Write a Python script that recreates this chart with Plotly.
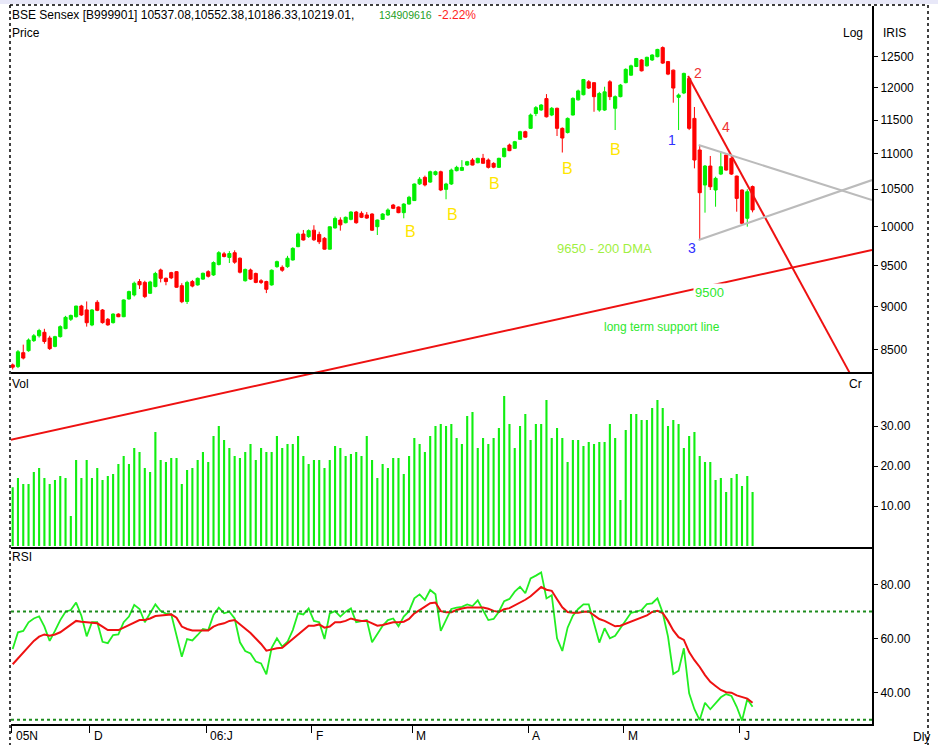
import plotly.graph_objects as go

# ---------------- data ----------------
open_ = [8335, 8316, 8470, 8492, 8605, 8660, 8700, 8635, 8540, 8650,
         8742, 8850, 8880, 9006, 8960, 8784, 9050, 8959, 8850, 8811,
         8911, 8880, 9090, 9138, 9300, 9290, 9158, 9239, 9443, 9340,
         9410, 9422, 9250, 9060, 9300, 9259, 9330, 9422, 9381, 9510,
         9645, 9600, 9660, 9590, 9310, 9443, 9400, 9310, 9300, 9259,
         9484, 9476, 9484, 9568, 9737, 9900, 9866, 9950, 9895, 9845,
         9705, 9980, 10084, 10048, 10093, 10191, 10173, 10151, 10164, 9996,
         10093, 10151, 10285, 10258, 10182, 10298, 10345, 10575, 10666, 10600,
         10705, 10745, 10499, 10573, 10760, 10765, 10840, 10912, 10873, 10936,
         10912, 10864, 10807, 10960, 11129, 11081, 11213, 11326, 11376, 11600,
         11655, 11830, 11577, 11680, 11376, 11313, 11577, 11810, 11890, 12094,
         12080, 11653, 11653, 12094, 11680, 11860, 12080, 12200, 12340, 12446,
         12350, 12446, 12500, 12650, 12420, 12281, 11850, 11917, 12148, 11526,
         11057, 10559, 10826, 10490, 10712, 10984, 10936, 10684, 10490, 10107,
         10537.08]
high = [8350, 8500, 8560, 8630, 8680, 8740, 8740, 8660, 8660, 8780,
        8890, 8905, 9010, 9020, 9060, 8970, 9075, 8970, 8865, 8920,
        8920, 9085, 9190, 9300, 9330, 9310, 9310, 9420, 9460, 9350,
        9420, 9430, 9280, 9310, 9320, 9350, 9410, 9440, 9550, 9680,
        9670, 9680, 9690, 9600, 9460, 9460, 9410, 9330, 9310, 9450,
        9560, 9500, 9620, 9730, 9920, 9953, 9960, 10015, 9930, 9860,
        10000, 10130, 10120, 10130, 10200, 10205, 10200, 10190, 10175, 10090,
        10175, 10240, 10300, 10265, 10310, 10410, 10580, 10670, 10690, 10760,
        10760, 10760, 10590, 10790, 10830, 10910, 10900, 10940, 10945, 11000,
        10935, 10880, 10945, 11090, 11150, 11190, 11340, 11340, 11600, 11715,
        11745, 11900, 11700, 11690, 11390, 11540, 11850, 11970, 12140, 12121,
        12090, 11935, 12016, 12120, 11880, 12060, 12310, 12370, 12480, 12460,
        12500, 12540, 12630, 12671, 12430, 12290, 11910, 12240, 12160, 11700,
        11129, 10840, 10970, 10675, 11032, 10990, 10950, 10690, 10500, 10500,
        10552.38]
low = [8285, 8300, 8395, 8480, 8590, 8640, 8570, 8500, 8530, 8640,
       8735, 8830, 8870, 8890, 8765, 8770, 8945, 8800, 8775, 8800,
       8875, 8875, 9080, 9120, 9210, 9100, 9150, 9230, 9290, 9255,
       9330, 9225, 9040, 9030, 9230, 9250, 9320, 9350, 9370, 9500,
       9600, 9530, 9520, 9400, 9300, 9320, 9280, 9270, 9160, 9250,
       9470, 9420, 9470, 9560, 9730, 9815, 9850, 9810, 9770, 9700,
       9700, 9970, 9944, 10040, 10080, 10035, 10110, 10100, 9940, 9887,
       10085, 10140, 10230, 10175, 10107, 10290, 10340, 10560, 10540, 10590,
       10690, 10475, 10363, 10560, 10750, 10755, 10830, 10835, 10865, 10860,
       10790, 10795, 10800, 10950, 11040, 11075, 11205, 11235, 11370, 11560,
       11640, 11540, 11560, 11262, 11020, 11300, 11570, 11800, 11880, 11980,
       11627, 11627, 11640, 11807, 11351, 11850, 12070, 12190, 12330, 12260,
       12340, 12430, 12490, 12380, 12200, 11766, 11351, 11900, 11350, 10793,
       9823, 10182, 10490, 10262, 10698, 10760, 10700, 10195, 10030, 9996,
       10186.33]
close = [8310, 8480, 8410, 8612, 8660, 8720, 8595, 8515, 8650, 8765,
         8873, 8895, 9005, 8900, 8810, 8959, 8955, 8811, 8785, 8911,
         8880, 9078, 9178, 9280, 9260, 9118, 9295, 9400, 9340, 9300,
         9345, 9231, 9057, 9290, 9245, 9340, 9402, 9365, 9535, 9660,
         9612, 9650, 9540, 9415, 9450, 9330, 9290, 9290, 9206, 9440,
         9547, 9440, 9590, 9715, 9900, 9823, 9944, 9825, 9800, 9705,
         9995, 10105, 10020, 10120, 10191, 10048, 10120, 10110, 9950, 10084,
         10164, 10218, 10240, 10182, 10298, 10390, 10573, 10640, 10560, 10745,
         10745, 10490, 10573, 10769, 10807, 10805, 10888, 10840, 10936, 10865,
         10807, 10810, 10936, 11081, 11047, 11178, 11326, 11245, 11577, 11690,
         11730, 11550, 11680, 11376, 11232, 11526, 11833, 11950, 12130, 11995,
         11860, 11910, 11935, 11860, 11860, 12042, 12294, 12350, 12470, 12270,
         12490, 12528, 12620, 12395, 12217, 11995, 11885, 12228, 11376, 10912,
         10453, 10826, 10535, 10652, 10816, 10769, 10712, 10375, 10040, 10466,
         10219.01]
volume = [14.7, 17.0, 15.5, 15.5, 18.5, 19.5, 17.0, 15.5, 16.5, 17.5,
          17.0, 7.5, 21.5, 17.0, 21.5, 17.0, 19.5, 16.5, 17.5, 18.0,
          20.5, 22.5, 20.5, 24.5, 23.5, 19.5, 18.5, 28.5, 21.5, 21.0,
          22.0, 22.0, 15.5, 19.0, 19.5, 21.5, 23.5, 21.0, 27.5, 30.0,
          26.5, 24.5, 22.5, 22.0, 23.5, 25.5, 21.5, 24.5, 23.5, 23.5,
          27.5, 24.5, 25.5, 25.5, 27.5, 22.5, 20.5, 21.5, 21.5, 19.5,
          21.5, 25.0, 24.5, 22.5, 23.0, 23.5, 22.5, 27.5, 21.5, 17.0,
          20.5, 19.5, 22.0, 22.0, 18.0, 22.5, 27.0, 25.5, 23.5, 27.5,
          30.0, 30.5, 30.0, 30.5, 27.0, 25.5, 32.5,
          33.5, 24.5, 27.0, 25.5, 27.0, 29.5, 37.5, 30.5, 24.5, 30.0,
          33.0, 26.5, 30.5, 30.5, 36.5, 27.0, 29.5, 27.0, 21.0, 26.5,
          26.5, 25.0, 26.0, 25.5, 26.0, 26.0, 30.5, 27.0, 11.5, 29.0,
          33.0, 33.0, 31.5, 31.5, 34.5, 36.5, 34.5, 30.0, 31.5, 30.5,
          24.5, 27.5, 28.5, 22.5, 21.0, 21.0, 16.5, 17.0, 13.5, 17.0,
          18.0, 15.0, 17.5, 13.5]
rsi = [56.1, 62.3, 62.8, 66.0, 67.4, 68.2, 64.4, 59.1, 62.8, 66.8,
       69.9, 70.5, 73.3, 68.4, 60.8, 66.0, 66.0, 58.8, 58.3, 61.3,
       61.5, 66.0, 68.1, 72.4, 70.9, 66.0, 69.3, 72.6, 70.1, 69.2,
       68.9, 61.5, 53.3, 59.8, 59.3, 61.3, 63.5, 63.1, 68.7, 71.4,
       69.3, 69.9, 67.4, 58.6, 55.4, 54.5, 51.5, 50.8, 46.8, 56.6,
       60.1, 57.0, 58.8, 63.1, 69.3, 68.9, 71.1, 66.5, 66.0, 59.8,
       69.3, 70.1, 68.1, 69.9, 71.1, 66.0, 66.5, 66.8, 58.6, 61.9,
       64.7, 66.8, 67.4, 64.5, 68.1, 70.1, 74.8, 76.3, 74.2, 77.9,
       76.3, 62.8, 66.8, 70.9, 71.4, 71.7, 72.6,
       72.0, 74.1, 70.5, 66.8, 67.2, 69.9, 73.8, 74.6, 77.3, 79.1,
       76.7, 82.2, 83.2, 84.4, 74.8, 76.0, 60.1, 55.4, 64.0, 68.4,
       70.9, 72.6, 72.6, 65.0, 58.5, 63.8, 60.1, 61.0, 63.8, 66.8,
       69.5, 69.9, 70.5, 72.7, 73.0, 74.8, 69.5, 60.7, 46.9, 48.1,
       56.4, 39.8, 33.9, 29.9, 36.3, 33.9, 36.1, 38.3, 39.5, 38.8,
       34.8, 29.7, 37.6, 34.8]
rsi_avg = [50.5, 52.7, 54.9, 57.0, 59.1, 60.7, 61.5, 61.0, 61.5, 62.3,
           63.7, 65.2, 66.5, 66.2, 66.0, 66.0, 65.6, 64.4, 63.1, 63.1,
           63.1, 64.0, 65.0, 66.0, 66.8, 66.8, 67.4, 68.3, 68.4, 68.7,
           68.9, 67.7, 64.4, 63.5, 63.0, 63.0, 63.0, 63.0, 64.4, 65.2,
           65.6, 66.5, 66.8, 65.2, 63.7, 62.0, 60.0, 58.0, 55.5, 56.0,
           56.4, 56.6, 58.2, 60.1, 61.5, 63.1, 64.7, 64.7, 65.2, 64.0,
           64.4, 66.0, 66.0, 66.5, 67.4, 66.8, 66.5, 66.5, 65.6, 64.7,
           65.0, 65.6, 66.0, 66.0, 66.2, 67.2, 69.3, 70.5, 71.7, 73.0,
           73.3, 70.1, 69.7, 69.7, 70.5, 71.1, 71.4,
           71.4, 71.4, 71.4, 71.0, 70.2, 69.8, 70.8, 71.2, 72.2, 73.3,
           74.3, 75.6, 77.3, 79.0, 78.0, 77.6, 74.5, 71.5, 69.8, 69.5,
           69.5, 69.9, 70.0, 68.5, 67.2, 66.5, 65.5, 64.5, 64.7, 65.5,
           66.3, 67.0, 67.8, 68.5, 69.8, 70.2, 69.4, 66.5, 63.0, 60.5,
           59.5, 55.0, 52.0, 49.5, 46.5, 44.0, 42.5, 41.0, 40.2, 40.0,
           39.0, 38.5, 37.8, 36.3]

month_idx = [0, 15, 37, 57, 76, 98, 116, 138]
month_labels = ["05N", "D", "06:J", "F", "M", "A", "M", "J"]
price_ticks = [8500, 9000, 9500, 10000, 10500, 11000, 11500, 12000, 12500]
vol_ticks = [10, 20, 30]
rsi_ticks = [40, 60, 80]
rsi_levels = [70, 30]

# drawn trend lines (bar index, price)
support_x = [-0.5, 162.6]
support_y = [7551, 9694]
downtrend_x = [127.8, 158.4]
downtrend_y = [12185, 8245]
tri_upper_x = [129.8, 162.6]
tri_upper_y = [11129, 10353]
tri_lower_x = [129.8, 162.6]
tri_lower_y = [9823, 10628]

idx = list(range(len(close)))
X_MIN, X_MAX = -0.32, 162.6
tick_pos = [max(m - 0.4, X_MIN + 0.15) for m in month_idx]

# ---------------- layout helpers (pixel -> paper) ----------------
W, H = 938, 745
L, R, T, B = 11, 872, 6, 724
def xp(px):
    return (px - L) / (R - L)
def yp(py):
    return (B - py) / (B - T)

FONT = "Liberation Sans, Arial, sans-serif"

fig = go.Figure()

fig.add_trace(go.Candlestick(
    x=idx, open=open_, high=high, low=low, close=close,
    increasing=dict(line=dict(color="#00EE00", width=1), fillcolor="#00EE00"),
    decreasing=dict(line=dict(color="#FF0000", width=1), fillcolor="#FF0000"),
    whiskerwidth=0, xaxis="x", yaxis="y", showlegend=False, hoverinfo="skip"))

for xs, ys, col in [(support_x, support_y, "#EE1111"),
                    (downtrend_x, downtrend_y, "#EE1111"),
                    (tri_upper_x, tri_upper_y, "#BBBBBB"),
                    (tri_lower_x, tri_lower_y, "#BBBBBB")]:
    fig.add_trace(go.Scatter(x=xs, y=ys, mode="lines", line=dict(color=col, width=2),
                             xaxis="x", yaxis="y", showlegend=False, hoverinfo="skip"))

fig.add_trace(go.Bar(x=idx, y=volume, width=0.4, marker=dict(color="#11EE11", line=dict(width=0)),
                     xaxis="x", yaxis="y2", showlegend=False, hoverinfo="skip"))

fig.add_trace(go.Scatter(x=idx, y=rsi, mode="lines", line=dict(color="#22EE22", width=1.8),
                         xaxis="x", yaxis="y3", showlegend=False, hoverinfo="skip"))
fig.add_trace(go.Scatter(x=idx, y=rsi_avg, mode="lines", line=dict(color="#EE1111", width=2),
                         xaxis="x", yaxis="y3", showlegend=False, hoverinfo="skip"))

shapes = []
for lv in rsi_levels:
    shapes.append(dict(type="line", xref="paper", yref="y3", x0=0, x1=1, y0=lv, y1=lv,
                       line=dict(color="#1E8C1E", width=2, dash="dot")))
# panel separators
for py in (373, 548):
    shapes.append(dict(type="line", xref="paper", yref="paper", x0=0, x1=1, y0=yp(py), y1=yp(py),
                       line=dict(color="black", width=2)))
# outer frame
shapes.append(dict(type="rect", xref="paper", yref="paper", x0=xp(0), x1=xp(938), y0=yp(0), y1=yp(4),
                   line=dict(width=0), fillcolor="#E8E8F8", layer="below"))
for (x0, y0, x1, y1) in [(10, 5, 10, 745), (928, 5, 928, 745), (10, 5, 928, 5)]:
    shapes.append(dict(type="line", xref="paper", yref="paper", x0=xp(x0), x1=xp(x1), y0=yp(y0), y1=yp(y1),
                       line=dict(color="black", width=1.5, dash="dot")))

ann = []
def txt(s, px, py, size=12, color="black", xanchor="center", bg=None):
    d = dict(text=s, x=xp(px), y=yp(py), xref="paper", yref="paper", showarrow=False,
             xanchor=xanchor, yanchor="middle", font=dict(family=FONT, size=size, color=color))
    if bg:
        d["bgcolor"] = bg
    ann.append(d)

txt("BSE Sensex [B999901] 10537.08,10552.38,10186.33,10219.01,", 10, 15, 12, xanchor="left")
txt("134909616", 377, 15, 10.5, "#1E9E1E", xanchor="left")
txt("-2.22%", 436, 15, 12, "#FF1E1E", xanchor="left")
txt("Price", 10, 33, 12, xanchor="left")
txt("Log", 853, 33, 12)
txt("IRIS", 894, 33, 12)
txt("Vol", 10, 384, 12, xanchor="left")
txt("Cr", 855, 384, 12)
txt("RSI", 10, 557, 12, xanchor="left")
txt("Dly", 921, 737, 12)

for (bx, by) in [(410, 231), (452, 214.5), (494, 183), (567.5, 168.5), (615.5, 149)]:
    txt("B", bx, by, 16, "#FFE600")
txt("1", 672, 140, 14, "#3030FF")
txt("3", 692, 248, 14, "#3030FF")
txt("2", 698, 73, 14, "#EE3333")
txt("4", 726, 127, 14, "#EE3333")
txt("9650 - 200 DMA", 604, 248, 13, "#9FEF3F")
txt("9500", 709.5, 292, 13, "#2EE82E", bg="white")
txt("long term support line", 661.5, 326.5, 12, "#2EE82E")

for tp, lab in zip(tick_pos, month_labels):
    ann.append(dict(text=lab, x=tp, y=yp(736), xref="x", yref="paper", showarrow=False,
                    xanchor="left", yanchor="middle", xshift=2,
                    font=dict(family=FONT, size=12, color="black")))

axis_common = dict(side="right", anchor="x", showgrid=False, zeroline=False, showline=True,
                   linecolor="black", linewidth=2, ticks="outside", ticklen=4, tickwidth=1,
                   tickcolor="black", automargin=False,
                   tickfont=dict(family=FONT, size=12, color="black"))

fig.update_layout(
    width=W, height=H,
    margin=dict(l=L, r=W - R, t=T, b=H - B),
    paper_bgcolor="white", plot_bgcolor="rgba(0,0,0,0)",
    boxgap=0.15,
    showlegend=False, hovermode=False,
    xaxis=dict(domain=[0, 1], range=[X_MIN, X_MAX], anchor="y3", showgrid=False, zeroline=False,
               showline=True, linecolor="black", linewidth=2, ticks="outside", ticklen=7,
               tickvals=tick_pos, showticklabels=False, tickcolor="black",
               rangeslider=dict(visible=False), automargin=False),
    yaxis=dict(domain=[yp(548), 1], type="log", range=[3.81633, 4.12586],
               tickvals=price_ticks, ticktext=[str(v) for v in price_ticks], **axis_common),
    yaxis2=dict(domain=[yp(548), yp(373)], range=[-0.5, 43.25], tickvals=vol_ticks,
                tickformat=".2f", **axis_common),
    yaxis3=dict(domain=[0, yp(548)], range=[28.45, 93.4], tickvals=rsi_ticks,
                tickformat=".2f", **axis_common),
    shapes=shapes, annotations=ann,
)

fig.write_html("out.html",
               config={"displayModeBar": False, "staticPlot": True},
               post_script="document.body.style.margin='0px';document.body.style.padding='0px';"
                           "document.body.style.overflow='hidden';")
